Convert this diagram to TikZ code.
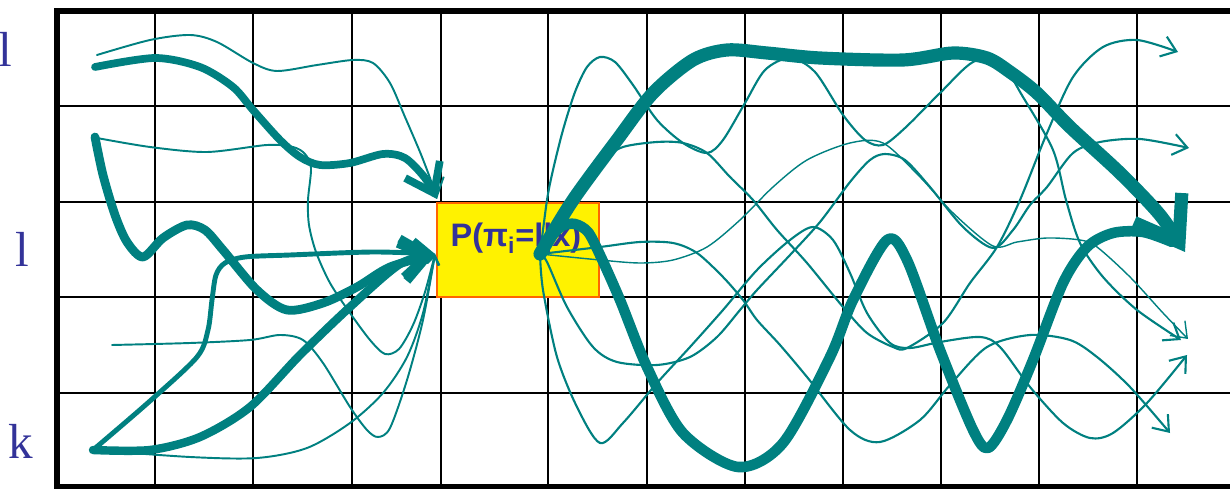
\documentclass[tikz,border=0pt]{standalone}
\usepackage{fontspec}
\setmainfont{Liberation Serif}
\newfontfamily\boxfont{Liberation Sans}
\usepackage{tikz}
\usetikzlibrary{arrows.meta}
\definecolor{pathteal}{RGB}{0,128,128}
\definecolor{labblue}{RGB}{51,51,153}
\definecolor{boxedge}{RGB}{255,102,0}
\tikzset{>={Straight Barb}}
\tikzset{
  cell/.style={line width=1.4pt},
  gridborder/.style={line width=3pt},
  statebox/.style={fill=yellow, draw=boxedge, line width=1.1pt},
  probtext/.style={text=labblue, font=\boxfont\bfseries\fontsize{18.5}{21}\selectfont},
  lab/.style={text=labblue, font=\fontsize{28}{30}\selectfont},
  finepath/.style={draw=pathteal, line width=0.8pt, line cap=round, line join=round},
  thinpath/.style={draw=pathteal, line width=1.2pt, line cap=round, line join=round},
  midpath/.style={draw=pathteal, line width=2.8pt, line cap=round, line join=round},
  boldpath/.style={draw=pathteal, line width=5pt, line cap=round, line join=round},
  heavypath/.style={draw=pathteal, line width=7.5pt, line cap=round, line join=round},
  tiptiny/.style={-{Straight Barb[length=5pt,width=7pt]}},
  tipsmall/.style={-{Straight Barb[length=8pt,width=12pt]}},
  tipmid/.style={-{Straight Barb[length=10pt,width=15pt]}},
  tipbig/.style={-{Straight Barb[length=15pt,width=22pt]}},
  tiphuge/.style={-{Straight Barb[length=23pt,width=32pt]}}
}

\begin{document}
\begin{tikzpicture}[x=0.02cm, y=-0.02cm, inner sep=0pt, outer sep=0pt]
\useasboundingbox (0,0) rectangle (1230,489);
% grid
\draw[cell] (57,106) -- (1230,106);
\draw[cell] (57,202) -- (1230,202);
\draw[cell] (57,297) -- (1230,297);
\draw[cell] (57,393) -- (1230,393);
\draw[cell] (155,11) -- (155,487);
\draw[cell] (253,11) -- (253,487);
\draw[cell] (352,11) -- (352,487);
\draw[cell] (441,11) -- (441,487);
\draw[cell] (548,11) -- (548,487);
\draw[cell] (647,11) -- (647,487);
\draw[cell] (745,11) -- (745,487);
\draw[cell] (843,11) -- (843,487);
\draw[cell] (941,11) -- (941,487);
\draw[cell] (1039,11) -- (1039,487);
\draw[cell] (1137,11) -- (1137,487);
\draw[gridborder] (1230,11) -- (57,11) -- (57,487) -- (1230,487);

% state labels
\node[lab, anchor=base] (l1) at (5,67) {l};
\node[lab, anchor=base] (l2) at (22,267) {l};
\node[lab, anchor=base] (kk) at (21,458) {k};

% the state box
\node[statebox, minimum width=3.24cm, minimum height=1.88cm] (box) at (518,250) {};
\node[probtext, anchor=base] (prob) at (516,247) {P(π\textsubscript{i}=l|x)};

\coordinate (boxtop) at (437,199);
\coordinate (boxin) at (435,254);
\coordinate (boxout) at (540,254);
\coordinate (s1) at (95,67);
\coordinate (s2) at (97,55);
\coordinate (s3) at (95,137);
\coordinate (s4) at (97,138);
\coordinate (s5) at (112,345);
\coordinate (s6) at (93,450);

% paths into the box
\draw[boldpath, line width=4.4pt, tipbig] plot[smooth] coordinates {(s1) (155,58) (200,67) (233,87) (253,110) (280,140) (300,157) (320,165) (350,163) (383,154) (405,158) (425,178) (boxtop)};
\draw[thinpath, line width=1.1pt, tipmid] plot[smooth] coordinates {(s2) (150,40) (190,35) (217,42) (253,63) (277,71) (317,65) (353,60) (373,63) (390,83) (405,117) (420,152) (430,178) (boxtop)};
\draw[boldpath, tipbig] plot[smooth] coordinates {(s3) (103,175) (115,215) (127,242) (143,257) (163,238) (187,225) (205,230) (223,250) (257,290) (287,310) (323,303) (357,287) (390,267) (boxin)};
\draw[thinpath, line width=1.1pt, tiptiny] plot[smooth] coordinates {(s4) (150,147) (207,152) (267,145) (293,147) (305,154) (311,168) (308,200) (309,225) (316,252) (330,283) (350,313) (370,340) (385,354) (399,349) (413,325) (425,292) (boxin)};
\draw[midpath, tipmid] plot[smooth] coordinates {(s6) (150,401) (197,357) (208,330) (212,300) (216,275) (225,263) (245,257) (290,255) (373,252) (boxin)};
\draw[boldpath, line width=4.8pt, tipbig] plot[smooth] coordinates {(s6) (150,450) (200,437) (250,407) (300,355) (350,307) (400,264) (boxin)};
\draw[thinpath, line width=1.1pt, tiptiny] plot[smooth] coordinates {(s5) (190,343) (250,340) (280,335) (303,340) (323,363) (350,407) (367,430) (378,437) (390,428) (407,380) (423,320) (boxin)};
\draw[thinpath, line width=1.1pt, tiptiny] plot[smooth] coordinates {(s6) (190,457) (257,458) (307,448) (350,423) (383,393) (407,357) (423,313) (boxin)};

% paths out of the box
\draw[thinpath, tipsmall] plot[smooth] coordinates {(boxout) (547,200) (553,170) (563,130) (575,92) (587,67) (600,57) (615,62) (633,85) (657,120) (683,143) (707,153) (723,140) (745,103) (765,70) (790,58) (815,72) (843,115) (865,140) (883,145) (905,128) (940,93) (973,62) (1000,62) (1023,97) (1053,150) (1066,200) (1080,243) (1103,277) (1137,310) (1181,340)};
\draw[thinpath, tipsmall] plot[smooth] coordinates {(boxout) (560,215) (585,182) (603,160) (623,147) (657,142) (683,143) (707,153) (730,177) (753,200) (777,230) (807,263) (843,307) (867,333) (893,347) (907,348) (943,323) (970,283) (997,247) (1020,200) (1047,133) (1073,77) (1103,47) (1137,40) (1178,52)};
\draw[finepath, tipsmall] plot[smooth] coordinates {(boxout) (600,260) (640,263) (673,260) (707,247) (740,220) (773,187) (807,160) (850,143) (883,143) (920,177) (953,213) (993,246) (1017,242) (1047,238) (1080,240) (1097,247) (1130,277) (1163,313) (1188,339)};
\draw[thinpath, tipsmall] plot[smooth] coordinates {(boxout) (547,262) (567,307) (593,347) (617,362) (657,365) (690,357) (717,337) (740,310) (757,290) (790,255) (820,222) (850,182) (870,160) (885,154) (905,160) (930,187) (963,227) (993,248) (1013,230) (1030,205) (1047,187) (1073,153) (1100,142) (1140,139) (1189,148)};
\draw[thinpath, tipsmall] plot[smooth] coordinates {(boxout) (543,290) (557,357) (577,407) (600,443) (623,423) (657,383) (690,347) (723,310) (757,270) (790,240) (813,227) (833,240) (850,273) (867,313) (890,343) (910,348) (940,342) (980,337) (1000,347) (1030,387) (1063,423) (1090,438) (1113,433) (1147,403) (1187,355)};
\draw[thinpath, tipsmall] plot[smooth] coordinates {(boxout) (600,247) (640,242) (673,243) (697,253) (723,277) (743,300) (757,320) (780,345) (807,377) (850,430) (880,442) (920,420) (950,385) (987,347) (1030,335) (1070,340) (1097,357) (1130,387) (1170,433)};
\draw[boldpath, line width=6pt] plot[smooth] coordinates {(boxout) (550,238) (562,226) (575,224) (588,232) (600,255) (620,300) (647,367) (683,433) (738,467) (783,443) (830,357) (853,300) (887,240) (907,260) (940,350) (973,430) (988,448) (1007,420) (1033,360) (1063,283) (1087,247) (1113,233) (1143,232) (1172,242)};
\draw[heavypath, tiphuge] plot[smooth] coordinates {(boxout) (573,200) (617,140) (653,93) (693,60) (727,50) (767,53) (820,58) (903,60) (953,53) (987,58) (1010,72) (1037,93) (1070,127) (1120,173) (1160,215) (1185,252)};
\end{tikzpicture}
\end{document}
